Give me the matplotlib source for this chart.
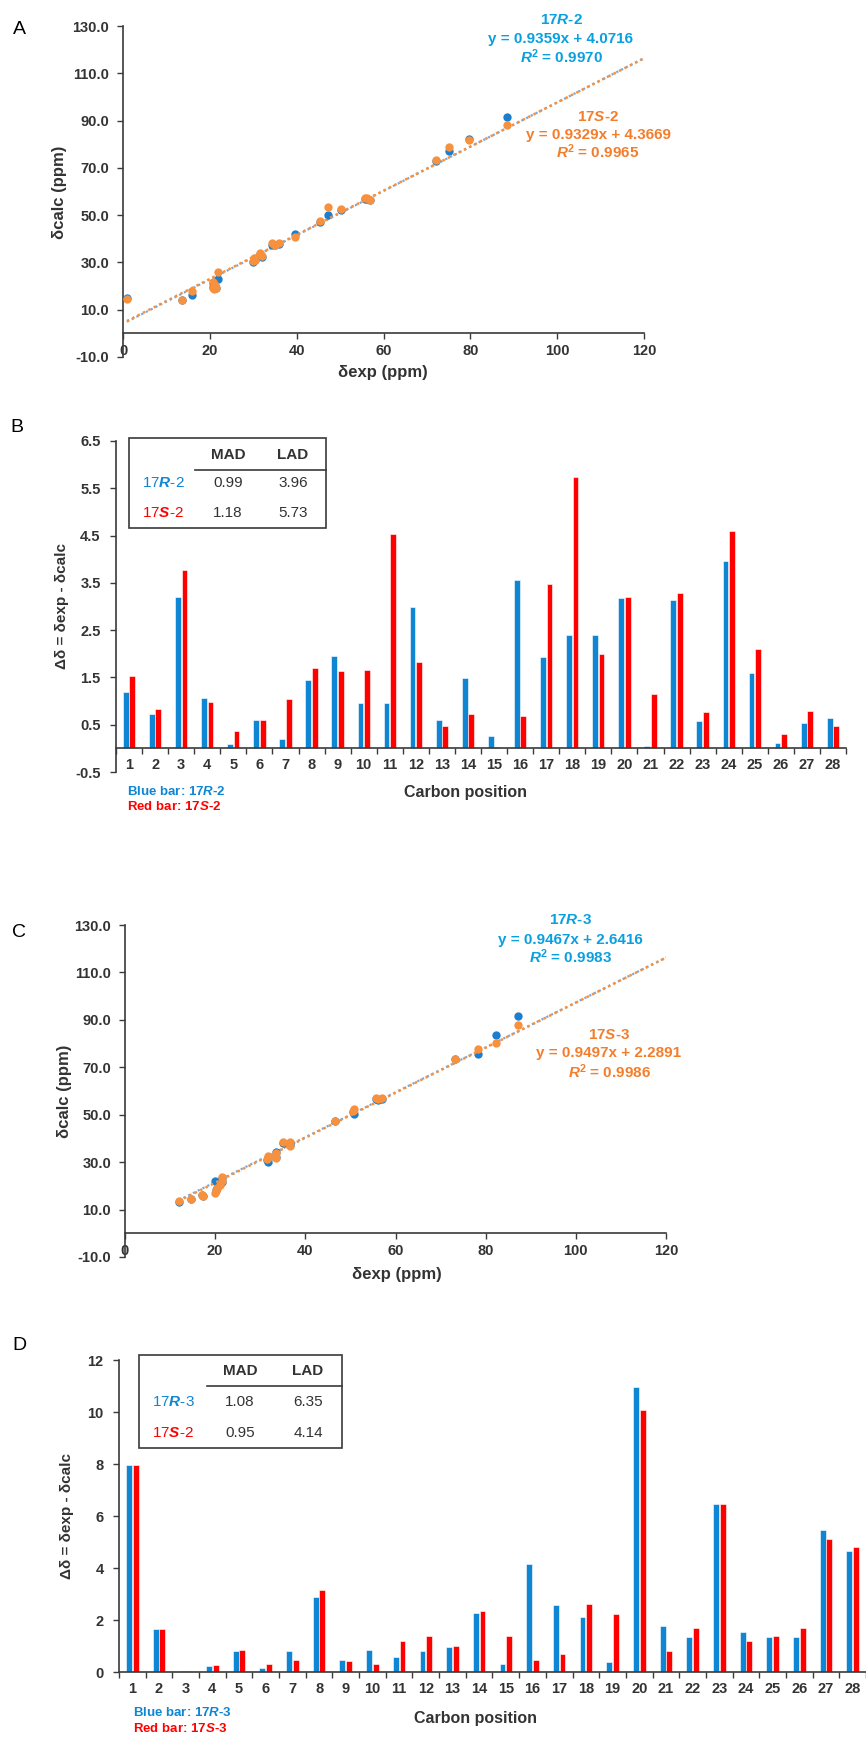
import matplotlib
matplotlib.use('Agg')
import matplotlib.pyplot as plt
from matplotlib.patches import Rectangle
from matplotlib.lines import Line2D
import numpy as np

# globalni stil
plt.rcParams['font.family'] = 'Liberation Sans'
plt.rcParams['font.weight'] = 'bold'
plt.rcParams['mathtext.fontset'] = 'custom'
plt.rcParams['mathtext.rm'] = 'Liberation Sans'
plt.rcParams['mathtext.it'] = 'Liberation Sans:italic'
plt.rcParams['mathtext.bf'] = 'Liberation Sans:bold'
plt.rcParams['mathtext.bfit'] = 'Liberation Sans:italic:bold'

# ---------------- podaci ----------------
# A: 17R-2 / 17S-2 (delta exp, delta calc)
exp_a = [0.9, 13.6, 15.8, 20.7, 21.4, 20.8, 21.8, 21.2, 29.9, 30.2, 31.5, 32.0, 34.3, 36.0,
         35.0, 39.7, 45.4, 47.3, 50.2, 55.8, 56.3, 72.2, 75.1, 79.7, 88.5, 20.9, 30.5, 56.8]
calc_a_r = [14.8, 14.0, 16.1, 19.6, 19.0, 21.2, 23.1, 20.2, 30.2, 31.6, 33.5, 32.3, 37.3, 37.8,
            37.3, 42.2, 47.3, 50.0, 52.2, 56.8, 56.9, 73.0, 77.2, 82.1, 91.3, 19.2, 31.0, 56.3]
calc_a_s = [14.4, 14.2, 17.8, 19.3, 19.3, 21.7, 26.0, 20.5, 30.6, 32.0, 34.0, 32.6, 38.2, 38.2,
            37.5, 40.8, 47.6, 53.5, 52.5, 57.1, 57.1, 73.3, 78.7, 81.8, 88.2, 18.8, 31.2, 56.5]
fit_a_r = (0.9359, 4.0716)
fit_a_s = (0.9329, 4.3669)

# C: 17R-3 / 17S-3
exp_c = [11.9, 14.7, 17.3, 19.9, 20.5, 21.6, 21.5, 20.2, 31.7, 33.4, 33.4, 32.0, 35.1, 36.6,
         36.6, 46.6, 50.7, 50.5, 55.6, 56.9, 73.1, 78.3, 82.4, 87.1, 21.0, 31.5, 56.2, 17.0]
calc_c_r = [13.2, 14.3, 15.7, 22.0, 19.0, 21.6, 23.4, 18.3, 30.1, 34.2, 32.2, 32.3, 38.0, 37.9,
            37.2, 47.2, 50.3, 51.0, 56.7, 56.8, 73.3, 75.7, 83.5, 91.7, 20.8, 31.1, 56.3, 16.0]
calc_c_s = [13.5, 14.5, 15.9, 17.0, 19.2, 22.0, 23.8, 18.0, 32.6, 33.7, 31.9, 32.0, 38.3, 38.3,
            36.9, 47.5, 52.4, 51.5, 57.0, 57.0, 73.6, 77.6, 80.4, 87.7, 20.5, 31.5, 56.5, 16.2]
fit_c_r = (0.9467, 2.6416)
fit_c_s = (0.9497, 2.2891)

# B: delta delta po poziciji ugljenika
carbons = np.arange(1, 29)
dd_b_r = [1.20, 0.73, 3.20, 1.06, 0.10, 0.59, 0.19, 1.44, 1.96, 0.95, 0.95, 2.98, 0.60, 1.48,
          0.27, 3.57, 1.94, 2.40, 2.39, 3.18, 0.04, 3.13, 0.58, 3.97, 1.59, 0.12, 0.54, 0.65]
dd_b_s = [1.53, 0.83, 3.78, 0.99, 0.36, 0.60, 1.04, 1.69, 1.64, 1.66, 4.53, 1.83, 0.47, 0.72,
          0.02, 0.68, 3.48, 5.73, 1.99, 3.21, 1.14, 3.28, 0.76, 4.59, 2.11, 0.30, 0.79, 0.48]

# D
dd_d_r = [7.95, 1.64, 0.03, 0.23, 0.80, 0.15, 0.80, 2.89, 0.47, 0.83, 0.58, 0.80, 0.95, 2.28,
          0.32, 4.16, 2.57, 2.10, 0.39, 10.95, 1.77, 1.33, 6.48, 1.53, 1.33, 1.33, 5.47, 4.65]
dd_d_s = [7.95, 1.64, 0.04, 0.26, 0.83, 0.30, 0.45, 3.14, 0.42, 0.30, 1.21, 1.40, 0.99, 2.35,
          1.40, 0.47, 0.71, 2.60, 2.22, 10.08, 0.80, 1.69, 6.46, 1.18, 1.40, 1.69, 5.11, 4.80]

# tabele MAD / LAD
tab_b_names = [r'17$\mathit{R}$-2', r'17$\mathit{S}$-2']
tab_b_mad = ['0.99', '1.18']
tab_b_lad = ['3.96', '5.73']
tab_d_names = [r'17$\mathit{R}$-3', r'17$\mathit{S}$-2']
tab_d_mad = ['1.08', '0.95']
tab_d_lad = ['6.35', '4.14']

# boje
BLUE_PT = '#1C7ECF'
ORANGE = '#F7913D'
BLUE_TXT = '#0AA0E0'
ORANGE_TXT = '#F47D2C'
BLUE_BAR = '#0E86D4'
RED_BAR = '#FF0000'
GRAY = '#333333'

W, H = 866, 1737
fig = plt.figure(figsize=(W / 100, H / 100), dpi=100)


def add_ax(left, top, right, bottom):
    return fig.add_axes([left / W, 1 - bottom / H, (right - left) / W, (bottom - top) / H])


def ftxt(x, y, s, **kw):
    kw.setdefault('ha', 'center')
    kw.setdefault('va', 'center')
    kw.setdefault('color', GRAY)
    return fig.text(x / W, 1 - y / H, s, **kw)


def style_axes(ax):
    for sp in ['top', 'right']:
        ax.spines[sp].set_visible(False)
    for sp in ['left', 'bottom']:
        ax.spines[sp].set_color('#3a3a3a')
        ax.spines[sp].set_linewidth(1.2)
    ax.spines['bottom'].set_position(('data', 0))
    ax.tick_params(colors='#3a3a3a', labelcolor=GRAY, labelsize=10.5, width=1, length=4, direction='out')


def scatter_panel(ax, exp, calc_r, calc_s, fit_r, fit_s):
    ax.scatter(exp, calc_r, s=36, color=BLUE_PT, linewidths=0, zorder=3)
    ax.scatter(exp, calc_s, s=36, color=ORANGE, linewidths=0, zorder=4)
    xx = np.array([min(exp), 120])
    ax.plot(xx, fit_r[0] * xx + fit_r[1], color='#7FA8D8', ls=(0, (1, 1.4)), lw=1.6, zorder=2)
    ax.plot(xx, fit_s[0] * xx + fit_s[1], color=ORANGE, ls=(0, (1, 1.4)), lw=1.8, zorder=5)
    ax.set_xlim(0, 120)
    ax.set_ylim(-10, 130)
    ax.set_xticks(range(0, 121, 20))
    ax.set_yticks(np.arange(-10, 131, 20))
    ax.set_yticklabels([f'{v:.1f}' for v in np.arange(-10, 131, 20)])
    style_axes(ax)
    ax.tick_params(axis='x', pad=4)
    ax.tick_params(axis='y', pad=6)


def bar_panel(ax, blue, red, ylim, yticks, ylabels):
    ax.bar(carbons - 0.125, blue, width=0.22, color=BLUE_BAR, edgecolor='white', linewidth=0.4, zorder=2)
    ax.bar(carbons + 0.125, red, width=0.22, color=RED_BAR, edgecolor='white', linewidth=0.4, zorder=2)
    ax.set_xlim(0.5, 28.5)
    ax.set_ylim(*ylim)
    ax.set_yticks(yticks)
    ax.set_yticklabels(ylabels)
    style_axes(ax)
    ax.set_xticks(carbons)
    ax.set_xticks(np.arange(0.5, 28.6, 1), minor=True)
    ax.tick_params(axis='x', which='major', length=0, pad=7, labelsize=10.5)
    ax.tick_params(axis='x', which='minor', length=4, width=1, direction='out', colors='#3a3a3a')
    ax.tick_params(axis='y', pad=7, labelsize=10.5)


def table(x0, x1, y0, y1, line_y, line_x0, head_y, row_y, cols, names, mad, lad):
    fig.add_artist(Rectangle((x0 / W, 1 - y1 / H), (x1 - x0) / W, (y1 - y0) / H,
                             transform=fig.transFigure, fill=False, ec='#3a3a3a', lw=1.2))
    fig.add_artist(Line2D([line_x0 / W, x1 / W], [1 - line_y / H] * 2,
                          transform=fig.transFigure, color='#3a3a3a', lw=1.2))
    ftxt(cols[1], head_y, 'MAD', fontsize=11, fontweight='bold')
    ftxt(cols[2], head_y, 'LAD', fontsize=11, fontweight='bold')
    for i, c in enumerate([BLUE_BAR, RED_BAR]):
        ftxt(cols[0], row_y[i], names[i], fontsize=11, fontweight='normal', color=c)
        ftxt(cols[1], row_y[i], mad[i], fontsize=11, fontweight='normal')
        ftxt(cols[2], row_y[i], lad[i], fontsize=11, fontweight='normal')


# ---------------- A ----------------
axA = add_ax(123, 26, 644, 357)
scatter_panel(axA, exp_a, calc_a_r, calc_a_s, fit_a_r, fit_a_s)
ftxt(19, 30, 'A', fontsize=14, fontweight='normal', color='black')
ftxt(60, 192, 'δcalc (ppm)', fontsize=12, fontweight='bold', rotation=90)
ftxt(383, 373, 'δexp (ppm)', fontsize=12, fontweight='bold')
ftxt(561, 20, r'17$\mathbfit{R}$-2', fontsize=11, fontweight='bold', color=BLUE_TXT)
ftxt(561, 39, f'y = {fit_a_r[0]:.4f}x + {fit_a_r[1]:.4f}', fontsize=11, fontweight='bold', color=BLUE_TXT)
ftxt(561, 57, r'$\mathbfit{R}^{\mathbf{2}}$ = 0.9970', fontsize=11, fontweight='bold', color=BLUE_TXT)
ftxt(598, 117, r'17$\mathbfit{S}$-2', fontsize=11, fontweight='bold', color=ORANGE_TXT)
ftxt(598, 135, f'y = {fit_a_s[0]:.4f}x + {fit_a_s[1]:.4f}', fontsize=11, fontweight='bold', color=ORANGE_TXT)
ftxt(598, 152, r'$\mathbfit{R}^{\mathbf{2}}$ = 0.9965', fontsize=11, fontweight='bold', color=ORANGE_TXT)

# ---------------- B ----------------
axB = add_ax(116, 441, 846, 772)
yt_b = np.arange(-0.5, 6.6, 1)
bar_panel(axB, dd_b_r, dd_b_s, (-0.5, 6.5), yt_b, [f'{v:.1f}' for v in yt_b])
ftxt(17, 427, 'B', fontsize=14, fontweight='normal', color='black')
ftxt(62, 606, 'Δδ = δexp - δcalc', fontsize=11, fontweight='bold', rotation=90)
ftxt(465, 792, 'Carbon position', fontsize=11.5, fontweight='bold')
ftxt(127, 791, r'Blue bar: 17$\mathbfit{R}$-2', fontsize=9.5, fontweight='bold', color=BLUE_BAR, ha='left')
ftxt(127, 807, r'Red bar: 17$\mathbfit{S}$-2', fontsize=9.5, fontweight='bold', color=RED_BAR, ha='left')
table(129, 326, 438, 528, 470, 195, 455, [483, 513], [163, 228, 293], tab_b_names, tab_b_mad, tab_b_lad)

# ---------------- C ----------------
axC = add_ax(125, 925, 666, 1257)
scatter_panel(axC, exp_c, calc_c_r, calc_c_s, fit_c_r, fit_c_s)
ftxt(19, 933, 'C', fontsize=14, fontweight='normal', color='black')
ftxt(64, 1091, 'δcalc (ppm)', fontsize=12, fontweight='bold', rotation=90)
ftxt(397, 1275, 'δexp (ppm)', fontsize=12, fontweight='bold')
ftxt(570, 920, r'17$\mathbfit{R}$-3', fontsize=11, fontweight='bold', color=BLUE_TXT)
ftxt(570, 940, f'y = {fit_c_r[0]:.4f}x + {fit_c_r[1]:.4f}', fontsize=11, fontweight='bold', color=BLUE_TXT)
ftxt(570, 957, r'$\mathbfit{R}^{\mathbf{2}}$ = 0.9983', fontsize=11, fontweight='bold', color=BLUE_TXT)
ftxt(609, 1035, r'17$\mathbfit{S}$-3', fontsize=11, fontweight='bold', color=ORANGE_TXT)
ftxt(609, 1053, f'y = {fit_c_s[0]:.4f}x + {fit_c_s[1]:.4f}', fontsize=11, fontweight='bold', color=ORANGE_TXT)
ftxt(609, 1072, r'$\mathbfit{R}^{\mathbf{2}}$ = 0.9986', fontsize=11, fontweight='bold', color=ORANGE_TXT)

# ---------------- D ----------------
axD = add_ax(119, 1360, 866, 1672)
yt_d = np.arange(0, 13, 2)
bar_panel(axD, dd_d_r, dd_d_s, (0, 12), yt_d, [str(v) for v in yt_d])
ftxt(19, 1345, 'D', fontsize=14, fontweight='normal', color='black')
ftxt(67, 1516, 'Δδ = δexp - δcalc', fontsize=11, fontweight='bold', rotation=90)
ftxt(475, 1718, 'Carbon position', fontsize=11.5, fontweight='bold')
ftxt(133, 1712, r'Blue bar: 17$\mathbfit{R}$-3', fontsize=9.5, fontweight='bold', color=BLUE_BAR, ha='left')
ftxt(133, 1728, r'Red bar: 17$\mathbfit{S}$-3', fontsize=9.5, fontweight='bold', color=RED_BAR, ha='left')
table(139, 342, 1355, 1448, 1386, 207, 1371, [1402, 1433], [173, 240, 308], tab_d_names, tab_d_mad, tab_d_lad)

fig.savefig('out.png', dpi=100)
